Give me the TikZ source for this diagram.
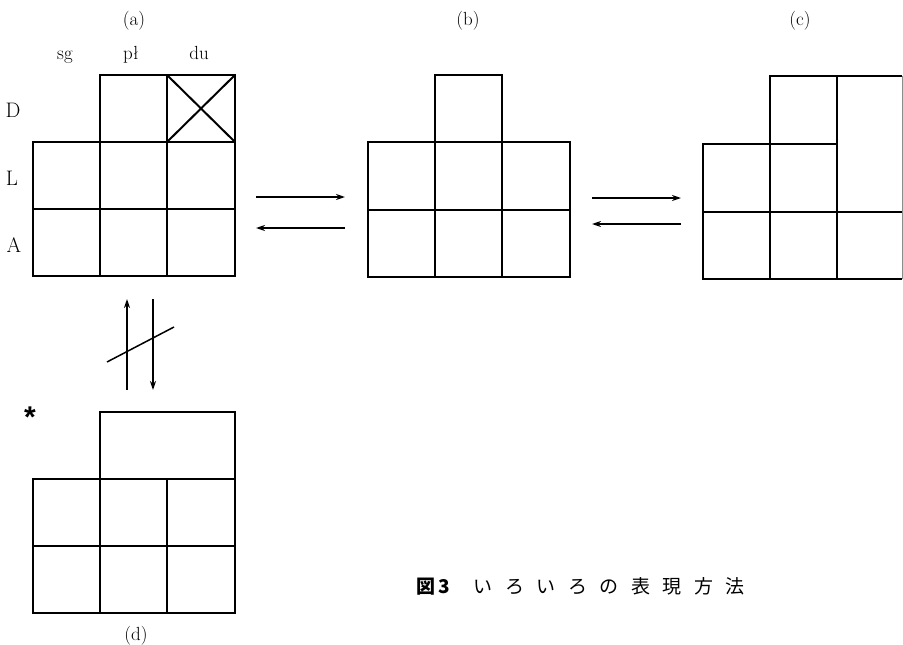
\documentclass[tikz,border=0pt]{standalone}
\usepackage{fontspec}
\newfontfamily\cjk{Noto Sans CJK JP}
\newfontfamily\astfont{Liberation Sans}
\usetikzlibrary{arrows.meta}
\newcommand\cg{\hspace{12.5pt}}
\begin{document}
\begin{tikzpicture}[x=1pt,y=-1pt,
  grid/.style={line width=2pt,line join=miter},
  faint/.style={line width=1pt,black!45},
  arr/.style={line width=1.5pt,-{Stealth[length=9pt,width=6pt]}},
  slash/.style={line width=1.5pt},
  lbl/.style={font=\fontsize{19}{22}\selectfont,inner sep=0pt,anchor=base},
  rowlbl/.style={font=\fontsize{21}{24}\selectfont,inner sep=0pt,anchor=base},
  ast/.style={font=\astfont\bfseries\fontsize{30}{32}\selectfont,inner sep=0pt,anchor=base},
  captext/.style={font=\cjk\fontsize{19}{22}\selectfont,inner sep=0pt,anchor=base west}]
\useasboundingbox (0,0) rectangle (903,645);
% ---- (a)
\draw[grid] (100,75) rectangle (235,142);
\draw[grid] (167,75) -- (167,142);
\draw[grid] (167,75) -- (235,142) (235,75) -- (167,142);
\draw[grid] (33,142) rectangle (235,276);
\draw[grid] (100,142) -- (100,276) (167,142) -- (167,276) (33,209) -- (235,209);
% ---- (b)
\draw[grid] (435,75) rectangle (502,142);
\draw[grid] (368,142) rectangle (570,277);
\draw[grid] (435,142) -- (435,277) (502,142) -- (502,277) (368,210) -- (570,210);
% ---- (c)
\draw[grid] (902,279) -- (703,279) -- (703,144) -- (770,144) -- (770,76) -- (902,76);
\draw[faint] (902,76) -- (902,279);
\draw[grid] (770,144) -- (837,144) (837,76) -- (837,279) (770,144) -- (770,279) (703,212) -- (902,212);
% ---- (d)
\draw[grid] (100,412) rectangle (235,479);
\draw[grid] (33,479) rectangle (235,613);
\draw[grid] (100,479) -- (100,613) (167,479) -- (167,613) (33,546) -- (235,546);
% ---- arrows
\coordinate (ab1) at (256,197); \coordinate (ab2) at (345,197);
\coordinate (ba1) at (345,228); \coordinate (ba2) at (256,228);
\coordinate (bc1) at (592,198); \coordinate (bc2) at (681,198);
\coordinate (cb1) at (681,224); \coordinate (cb2) at (592,224);
\coordinate (da1) at (127,390); \coordinate (da2) at (127,299);
\coordinate (ad1) at (153,299); \coordinate (ad2) at (153,390);
\coordinate (s1) at (107,362); \coordinate (s2) at (174,327);
\draw[arr] (ab1) -- (ab2);
\draw[arr] (ba1) -- (ba2);
\draw[arr] (bc1) -- (bc2);
\draw[arr] (cb1) -- (cb2);
\draw[arr] (da1) -- (da2);
\draw[arr] (ad1) -- (ad2);
\draw[slash] (s1) -- (s2);
% ---- labels
\node[lbl] (la) at (134,25) {(a)};
\node[lbl] (lb) at (468,25) {(b)};
\node[lbl] (lc) at (800,25) {(c)};
\node[lbl] (lsg) at (65,59) {sg};
\node[lbl] (lpl) at (131,59) {pł};
\node[lbl] (ldu) at (199,59) {du};
\node[rowlbl] (lD) at (13,117) {D};
\node[rowlbl] (lL) at (12,185) {L};
\node[rowlbl] (lA) at (14,252) {A};
\node[lbl] (ld) at (136,640) {(d)};
\node[ast] (star) at (30,427) {*};
\node[captext] (caption) at (416,593) {{\bfseries 図\hspace{3pt}3}\hspace{24pt}い\cg ろ\cg い\cg ろ\cg の\cg 表\cg 現\cg 方\cg 法};
\end{tikzpicture}
\end{document}
